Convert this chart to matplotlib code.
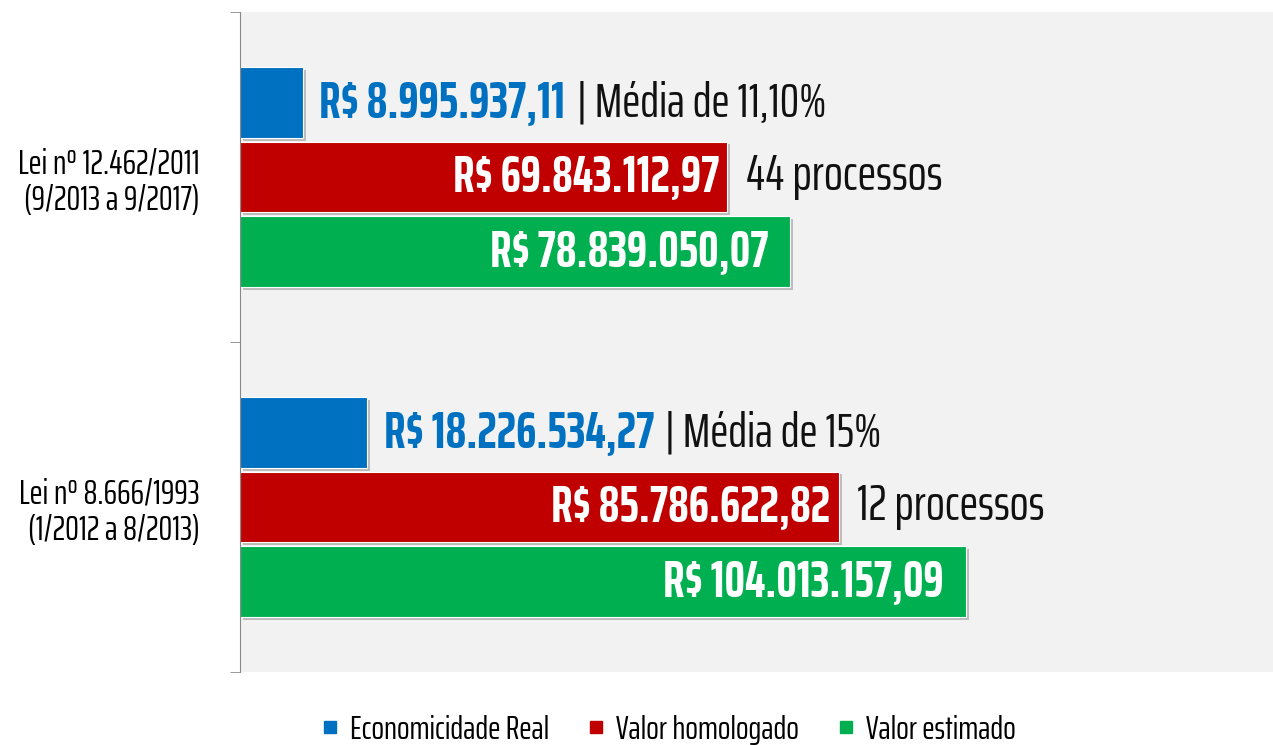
import matplotlib.pyplot as plt
import matplotlib.patheffects as pe
from matplotlib.lines import Line2D
from matplotlib import font_manager

categories = ['Lei nº 12.462/2011\n(9/2013 a 9/2017)', 'Lei nº 8.666/1993\n(1/2012 a 8/2013)']
economicidade = [8995937.11, 18226534.27]
homologado = [69843112.97, 85786622.82]
estimado = [78839050.07, 104013157.09]
medias = ['Média de 11,10%', 'Média de 15%']
processos = ['44 processos', '12 processos']
series_names = ['Economicidade Real', 'Valor homologado', 'Valor estimado']

BLUE = '#0070C0'
RED = '#C00000'
GREEN = '#00B050'

# condensed face close to the original's Agency-style lettering
names = {f.name for f in font_manager.fontManager.ttflist}
FONT = 'DejaVu Sans'
for cand in ['Saira ExtraCondensed', 'Saira Extra Condensed', 'Saira Condensed',
             'Antonio', 'Oswald', 'Roboto Condensed']:
    if cand in names:
        FONT = cand
        break
plt.rcParams['font.family'] = [FONT, 'DejaVu Sans']


def brl(v):
    s = f'{v:,.2f}'
    return 'R$ ' + s.replace(',', '#').replace('.', ',').replace('#', '.')


fig = plt.figure(figsize=(12.73, 7.45), dpi=100)
ax = fig.add_axes([240 / 1273, 1 - 672 / 745, 1 - 240 / 1273, 660 / 745])
ax.set_facecolor('#F2F2F2')

h = 0.215
step = 0.225
shadow = [pe.SimplePatchShadow(offset=(2, -2), shadow_rgbFace='#888888', alpha=0.5), pe.Normal()]
big = 37
for i in range(len(categories)):
    b1 = ax.barh(i - step, economicidade[i], height=h, color=BLUE, edgecolor='white', linewidth=0.8)
    b2 = ax.barh(i, homologado[i], height=h, color=RED, edgecolor='white', linewidth=0.8)
    b3 = ax.barh(i + step, estimado[i], height=h, color=GREEN, edgecolor='white', linewidth=0.8)
    for b in (b1, b2, b3):
        for p in b.patches:
            p.set_path_effects(shadow)

    t = ax.annotate(brl(economicidade[i]), xy=(economicidade[i], i - step), xytext=(12, 0),
                    textcoords='offset points', va='center', ha='left',
                    color=BLUE, fontsize=big, fontweight='bold')
    ax.annotate('| ' + medias[i], xy=(1, 0.5), xycoords=t, xytext=(8, 0),
                textcoords='offset points', va='center', ha='left', color='#111111', fontsize=35)

    ax.annotate(brl(homologado[i]), xy=(homologado[i], i), xytext=(-6, 0),
                textcoords='offset points', va='center', ha='right',
                color='white', fontsize=big, fontweight='bold')
    ax.annotate(processos[i], xy=(homologado[i], i), xytext=(13, 0),
                textcoords='offset points', va='center', ha='left', color='#111111', fontsize=36)

    ax.annotate(brl(estimado[i]), xy=(estimado[i], i + step), xytext=(-16, 0),
                textcoords='offset points', va='center', ha='right',
                color='white', fontsize=big, fontweight='bold')

ax.set_xlim(0, 148e6)
ax.set_ylim(1.5, -0.5)
ax.set_xticks([])
ax.set_yticks([0, 1])
ax.set_yticklabels(categories, fontsize=25, linespacing=1.15)
ax.set_yticks([-0.5, 0.5, 1.5], minor=True)
ax.tick_params(axis='y', which='major', length=0, pad=29)
ax.tick_params(axis='y', which='minor', length=7, color='#888888', direction='out')
for s in ('top', 'right', 'bottom'):
    ax.spines[s].set_visible(False)
ax.spines['left'].set_color('#888888')

handles = [Line2D([], [], marker='s', linestyle='', color=c, markersize=9)
           for c in (BLUE, RED, GREEN)]
fig.legend(handles, series_names, loc='center', bbox_to_anchor=(668 / 1273, 1 - 730 / 745),
           ncol=3, frameon=False, fontsize=24, handletextpad=0.3, columnspacing=1.1,
           handlelength=0.6)

fig.savefig('out.png', dpi=100)
